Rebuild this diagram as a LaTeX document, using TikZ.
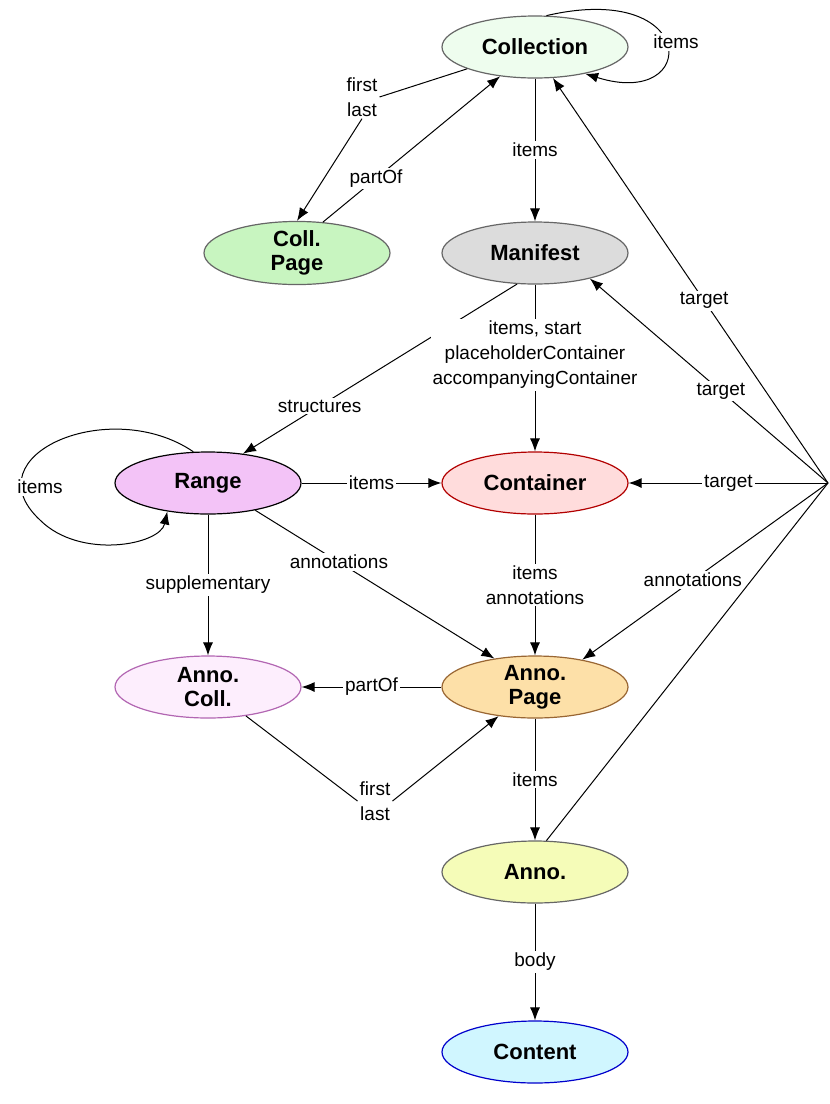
\documentclass[tikz,border=0pt]{standalone}
\usepackage{fontspec}
\setmainfont{Liberation Sans}
\usetikzlibrary{shapes.geometric,arrows.meta}
\begin{document}
\begin{tikzpicture}[x=1pt,y=-1pt,
  ent/.style={ellipse,draw=#1,line width=1.2pt,minimum width=186pt,minimum height=62pt,inner sep=0pt,font=\fontsize{22}{24}\selectfont\bfseries,align=center},
  lab/.style={fill=white,inner sep=2pt,font=\fontsize{19}{25}\selectfont,align=center},
  arr/.style={-{Latex[length=13pt,width=10pt]},line width=1pt},
  ln/.style={line width=1pt}]
\useasboundingbox (0,0) rectangle (830,1104);
\definecolor{c1}{HTML}{EEFDEE}\definecolor{c2}{HTML}{C8F5C0}\definecolor{c3}{HTML}{DCDCDC}
\definecolor{c4}{HTML}{F3C3F7}\definecolor{c5}{HTML}{FFDCDC}\definecolor{c6}{HTML}{FDEEFD}
\definecolor{c7}{HTML}{FDE0A8}\definecolor{c8}{HTML}{F5FCB8}\definecolor{c9}{HTML}{D0F6FF}
\node[ent=black!60,fill=c1] (coll) at (535,47) {Collection};
\node[ent=black!60,fill=c2] (cpage) at (297,253) {Coll.\\Page};
\node[ent=black!60,fill=c3] (man) at (535,253) {Manifest};
\node[ent=black,fill=c4] (range) at (208,483) {Range};
\node[ent=red!70!black,fill=c5] (cont) at (535,483) {Container};
\node[ent=violet!60,fill=c6] (acoll) at (208,687) {Anno.\\Coll.};
\node[ent=brown!80!black,fill=c7] (apage) at (535,687) {Anno.\\Page};
\node[ent=black!60,fill=c8] (anno) at (535,872) {Anno.};
\node[ent=blue!80!black,fill=c9] (content) at (535,1052) {Content};
\coordinate (R) at (828,483);
% labels as nodes
\node[lab] (fl1) at (362,97) {first\\last};
\node[lab] (fl2) at (375,801) {first\\last};
\draw[ln] (coll) -- (fl1.east);
\draw[arr] (fl1.south) -- (cpage.north);
\draw[ln] (acoll) -- (fl2.west);
\draw[arr] (fl2.east) -- (apage);
\draw[arr] (coll) -- node[lab]{items} (man);
\draw[arr] (coll.70) .. controls (700,-20) and (700,110) .. (coll.-28);
\node[lab] at (676,42) {items};
\draw[arr] (cpage.50) -- node[lab,pos=0.3]{partOf} (coll.220);
\draw[arr] (man.240) -- node[lab,pos=0.72]{structures} (range.40);
\draw[arr] (man) -- node[lab,pos=0.42]{items, start\\placeholderContainer\\accompanyingContainer} (cont);
\draw[arr] (range) -- node[lab]{items} (cont);
\draw[arr] (range.115) .. controls (110,395) and (-30,455) .. (40,520) .. controls (80,560) and (160,545) .. (range.215);
\node[lab] at (40,487) {items};
\draw[arr] (range) -- node[lab,pos=0.5]{supplementary} (acoll);
\draw[arr] (range.-30) -- node[lab,pos=0.35]{annotations} (apage.145);
\draw[arr] (cont) -- node[lab]{items\\annotations} (apage);
\draw[arr] (apage) -- node[lab]{partOf} (acoll);
\draw[arr] (apage) -- node[lab]{items} (anno);
\draw[arr] (anno) -- node[lab]{body} (content);
\draw[arr] (R) -- node[lab,pos=0.45]{target} (coll.-60);
\draw[arr] (R) -- node[lab,pos=0.45]{target} (man.-25);
\draw[arr] (R) -- node[lab,pos=0.5]{target} (cont);
\draw[arr] (R) -- node[lab,pos=0.55]{annotations} (apage.30);
\draw[ln] (anno.70) -- (R);
\end{tikzpicture}
\end{document}
